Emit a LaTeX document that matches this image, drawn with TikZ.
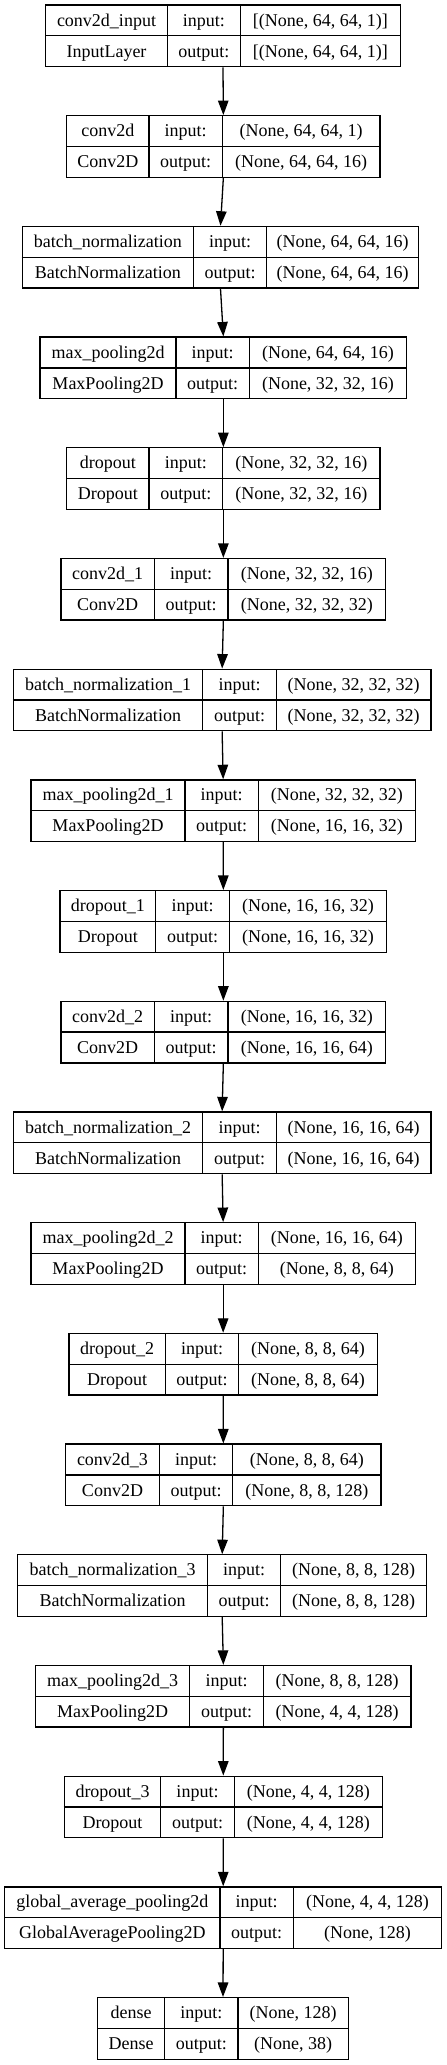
\documentclass[tikz,border=0pt]{standalone}
\usepackage{fontspec}
\setmainfont{Liberation Serif}
\usetikzlibrary{arrows.meta}

\begin{document}
\begin{tikzpicture}[x=1pt,y=-1pt,
		layer/.style={draw,line width=1.3pt,inner sep=0pt,minimum height=61.6pt},
		cell/.style={anchor=base,inner sep=0pt,font=\fontsize{18}{21}\selectfont},
		flow/.style={line width=1.3pt,-{Triangle[length=14.5pt,width=10.5pt]}}]
			\useasboundingbox (0,0) rectangle (447,2065);
			\foreach \lname/\ltype/\lin/\lout/\l/\da/\db/\r [count=\k from 0] in {
				conv2d\_input/InputLayer/{[(None, 64, 64, 1)]}/{[(None, 64, 64, 1)]}/45.7/167.3/240.3/400.3,
				conv2d/Conv2D/{(None, 64, 64, 1)}/{(None, 64, 64, 16)}/66.7/149/222.3/380,
				batch\_normalization/BatchNormalization/{(None, 64, 64, 16)}/{(None, 64, 64, 16)}/22.3/193.3/266.7/418.7,
				max\_pooling2d/MaxPooling2D/{(None, 64, 64, 16)}/{(None, 32, 32, 16)}/40/176/249.3/406.7,
				dropout/Dropout/{(None, 32, 32, 16)}/{(None, 32, 32, 16)}/66.7/149/222.7/380,
				conv2d\_1/Conv2D/{(None, 32, 32, 16)}/{(None, 32, 32, 32)}/61/154.3/228/385.7,
				batch\_normalization\_1/BatchNormalization/{(None, 32, 32, 32)}/{(None, 32, 32, 32)}/13.3/202.7/276.3/431,
				max\_pooling2d\_1/MaxPooling2D/{(None, 32, 32, 32)}/{(None, 16, 16, 32)}/31/185/258.3/415.3,
				dropout\_1/Dropout/{(None, 16, 16, 32)}/{(None, 16, 16, 32)}/60/155.7/229.3/386.7,
				conv2d\_2/Conv2D/{(None, 16, 16, 32)}/{(None, 16, 16, 64)}/61/154.3/228/385.7,
				batch\_normalization\_2/BatchNormalization/{(None, 16, 16, 64)}/{(None, 16, 16, 64)}/13.3/202.7/276.3/431,
				max\_pooling2d\_2/MaxPooling2D/{(None, 16, 16, 64)}/{(None, 8, 8, 64)}/31/185/258.3/415.3,
				dropout\_2/Dropout/{(None, 8, 8, 64)}/{(None, 8, 8, 64)}/69/165.3/238.7/377.3,
				conv2d\_3/Conv2D/{(None, 8, 8, 64)}/{(None, 8, 8, 128)}/65.7/159.3/232.7/381,
				batch\_normalization\_3/BatchNormalization/{(None, 8, 8, 128)}/{(None, 8, 8, 128)}/17.7/207.3/280.7/426.7,
				max\_pooling2d\_3/MaxPooling2D/{(None, 8, 8, 128)}/{(None, 4, 4, 128)}/35.7/189.7/263.3/411,
				dropout\_3/Dropout/{(None, 4, 4, 128)}/{(None, 4, 4, 128)}/64.3/160.7/234.3/382.3,
				global\_average\_pooling2d/GlobalAveragePooling2D/{(None, 4, 4, 128)}/{(None, 128)}/4.7/220/293.3/441.7,
				dense/Dense/{(None, 128)}/{(None, 38)}/97.7/164.7/238/348.3}{
				\pgfmathsetmacro\ytop{5+110.7*\k}
				\pgfmathsetmacro\w{\r-\l}
				\node[layer,minimum width=\w pt] (lay\k) at ({(\l+\r)/2},{\ytop+30.8}) {};
				\draw[line width=1.3pt] (lay\k.west) -- (lay\k.east);
				\draw[line width=1.3pt] (\da,\ytop) -- (\da,{\ytop+61.6});
				\draw[line width=1.3pt] (\db,\ytop) -- (\db,{\ytop+61.6});
				\node[cell] (nm\k) at ({(\l+\da)/2},{\ytop+21}) {\lname};
				\node[cell] (ty\k) at ({(\l+\da)/2},{\ytop+52}) {\ltype};
				\node[cell] (ik\k) at ({(\da+\db)/2},{\ytop+21}) {input:};
				\node[cell] (ok\k) at ({(\da+\db)/2},{\ytop+52}) {output:};
				\node[cell] (is\k) at ({(\db+\r)/2},{\ytop+21}) {\lin};
				\node[cell] (os\k) at ({(\db+\r)/2},{\ytop+52}) {\lout};
			}
			\foreach \k in {0,...,17}{
				\pgfmathtruncatemacro\j{\k+1}
				\draw[flow] (lay\k.south) -- (lay\j.north);
			}
		\end{tikzpicture}
\end{document}
